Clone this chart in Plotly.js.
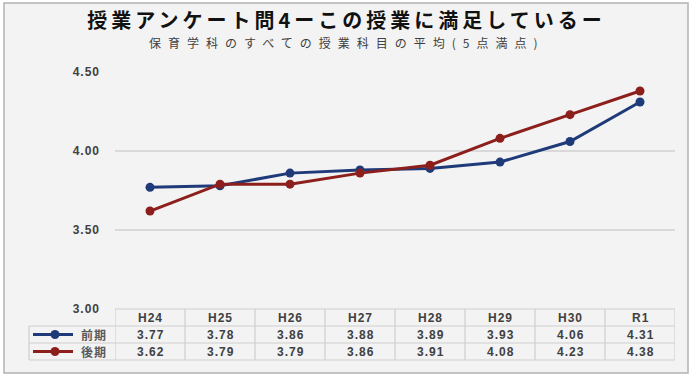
<!DOCTYPE html>
<html>
<head>
<meta charset="utf-8">
<script src="https://cdn.plot.ly/plotly-3.0.1.min.js"></script>
<style>
  html, body { margin: 0; padding: 0; background: #ffffff; }
  #chart { width: 693px; height: 386px; }
  .gtitle { letter-spacing: 4px; }
  .annotation-text { letter-spacing: 1px; }
  g.annotation[data-index="0"] .annotation-text { letter-spacing: 7px; }
  .ytick text { letter-spacing: 1px; }
</style>
</head>
<body>
<div id="chart"></div>
<script>
// ---- data ----
const categories = ["H24", "H25", "H26", "H27", "H28", "H29", "H30", "R1"];
const seriesNames = ["前期", "後期"];
const zenki = [3.77, 3.78, 3.86, 3.88, 3.89, 3.93, 4.06, 4.31];
const kouki = [3.62, 3.79, 3.79, 3.86, 3.91, 4.08, 4.23, 4.38];
const titleText = "授業アンケート問4ーこの授業に満足しているー";
const subtitleText = "保育学科のすべての授業科目の平均(5点満点)";

// ---- style ----
const W = 693, H = 386;
const M = { l: 115, r: 18, t: 72, b: 77 };
const PW = W - M.l - M.r, PH = H - M.t - M.b;
const px2x = p => (p - M.l) / PW;          // pixel x -> paper x
const px2y = p => (H - M.b - p) / PH;      // pixel y -> paper y
const colors = ["#1f3a78", "#8c1f1c"];
const gridCol = "#d9d9d9";
const tableCol = "#cfcfcf";
const textCol = "#404040";
const numFont = { family: "Liberation Sans, Arial, sans-serif", size: 12, color: textCol, weight: 700 };
const jpFont = "Noto Sans CJK JP, sans-serif";

const seriesData = [zenki, kouki];
const traces = seriesData.map((vals, i) => ({
  type: "scatter", mode: "lines+markers",
  x: categories, y: vals, name: seriesNames[i],
  line: { color: colors[i], width: 3 },
  marker: { color: colors[i], size: 9 },
  showlegend: false, hoverinfo: "skip"
}));

// table geometry (pixel rows)
const rowTop = [309, 326, 343, 360];
const legendLeft = 29;
const shapes = [];
const annotations = [];

// subtitle (index 0)
annotations.push({
  text: subtitleText, xref: "paper", yref: "paper",
  x: px2x(346), y: px2y(43), xanchor: "center", yanchor: "middle",
  showarrow: false, font: { family: jpFont, size: 12, color: "#404040" }
});

// frame
shapes.push({
  type: "rect", xref: "paper", yref: "paper", layer: "below",
  x0: px2x(4), x1: px2x(688), y0: px2y(373), y1: px2y(3),
  fillcolor: "#f3f3f3", line: { color: "#b3b3b3", width: 1.5 }
});

// horizontal table lines
shapes.push({ type: "line", xref: "paper", yref: "paper", x0: 0, x1: 1, y0: px2y(rowTop[0]), y1: px2y(rowTop[0]), line: { color: tableCol, width: 1.2 } });
for (let r = 1; r < rowTop.length; r++) {
  shapes.push({ type: "line", xref: "paper", yref: "paper", x0: px2x(legendLeft), x1: 1, y0: px2y(rowTop[r]), y1: px2y(rowTop[r]), line: { color: tableCol, width: 1.2 } });
}
// vertical table lines at category boundaries
for (let c = 0; c <= categories.length; c++) {
  shapes.push({ type: "line", xref: "x", yref: "paper", x0: c - 0.5, x1: c - 0.5, y0: px2y(rowTop[0]), y1: px2y(rowTop[3]), line: { color: tableCol, width: 1.2 } });
}
shapes.push({ type: "line", xref: "paper", yref: "paper", x0: px2x(legendLeft), x1: px2x(legendLeft), y0: px2y(rowTop[1]), y1: px2y(rowTop[3]), line: { color: tableCol, width: 1.2 } });

// header labels
categories.forEach((c, i) => {
  annotations.push({ text: c, xref: "x", yref: "paper", x: i, y: px2y((rowTop[0] + rowTop[1]) / 2),
    xanchor: "center", yanchor: "middle", showarrow: false, font: numFont });
});
// value rows + legend keys
seriesData.forEach((vals, s) => {
  const yc = px2y((rowTop[s + 1] + rowTop[s + 2]) / 2);
  vals.forEach((v, i) => {
    annotations.push({ text: v.toFixed(2), xref: "x", yref: "paper", x: i, y: yc,
      xanchor: "center", yanchor: "middle", showarrow: false, font: numFont });
  });
  shapes.push({ type: "line", xref: "paper", yref: "paper", x0: px2x(33), x1: px2x(73), y0: yc, y1: yc,
    line: { color: colors[s], width: 3 } });
  shapes.push({ type: "circle", xref: "paper", yref: "paper", xsizemode: "pixel", ysizemode: "pixel",
    xanchor: px2x(55), yanchor: yc, x0: -4.5, x1: 4.5, y0: -4.5, y1: 4.5,
    fillcolor: colors[s], line: { color: colors[s], width: 0 } });
  annotations.push({ text: seriesNames[s], xref: "paper", yref: "paper", x: px2x(94), y: yc,
    xanchor: "center", yanchor: "middle", showarrow: false,
    font: { family: jpFont, size: 12, color: "#595959", weight: 700 } });
});

const layout = {
  width: W, height: H,
  margin: M,
  paper_bgcolor: "#ffffff",
  plot_bgcolor: "rgba(0,0,0,0)",
  title: {
    text: titleText, xref: "container", x: 0.5, xanchor: "center",
    yref: "container", y: 1 - 21 / H, yanchor: "middle",
    font: { family: jpFont, size: 20, color: "#111111", weight: 700 }
  },
  xaxis: {
    type: "category", range: [-0.5, categories.length - 0.5],
    showticklabels: false, showgrid: false, zeroline: false, showline: false, ticks: ""
  },
  yaxis: {
    range: [3, 4.5], dtick: 0.5, tick0: 3, tickformat: ".2f",
    gridcolor: gridCol, gridwidth: 1.5, zeroline: false, showline: false, ticks: "",
    ticklabelstandoff: 14,
    tickfont: numFont
  },
  shapes: shapes,
  annotations: annotations
};

Plotly.newPlot("chart", traces, layout, { displayModeBar: false, staticPlot: true });
</script>
</body>
</html>
